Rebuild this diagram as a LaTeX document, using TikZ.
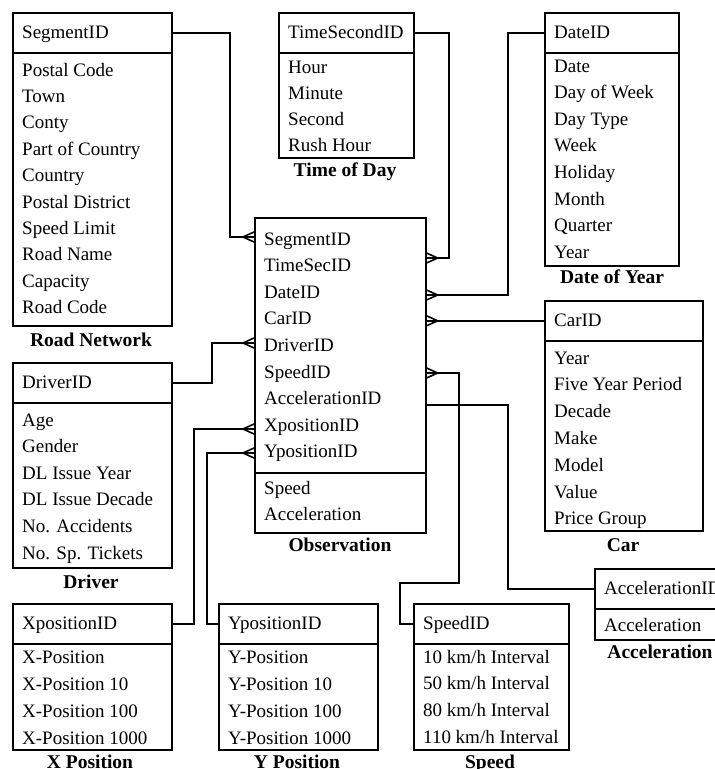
\documentclass[tikz,border=0pt]{standalone}
\usepackage{fontspec}
\setmainfont{Liberation Serif}
\usetikzlibrary{calc}
\newcommand\rowfont{\fontsize{19}{22}\selectfont}
\newcommand\ttlfont{\fontsize{19.5}{22}\selectfont\bfseries}
\tikzset{
  box/.style={draw, line width=1.6pt, inner sep=0pt, anchor=north west},
  txt/.style={anchor=base west, inner sep=0pt, font=\rowfont},
  ttl/.style={anchor=base, inner sep=0pt, font=\ttlfont},
  conn/.style={line width=1.6pt},
}
% id, L, T, R, D, B, header
\newcommand\ertbl[7]{%
  \node[box, minimum width={(#4-#2)*1pt}, minimum height={(#5-#3)*1pt}] (#1H) at (#2,#3) {};
  \node[box, minimum width={(#4-#2)*1pt}, minimum height={(#6-#5)*1pt}] (#1B) at (#2,#5) {};
  \node[txt] (#1-h) at ({#2+10},{(#3+#5)/2+6}) {#7};}
% id, L, first centre, step, list
\newcommand\errows[5]{%
  \foreach \t [count=\i] in {#5} \node[txt] (#1-\i) at ({#2+10},{#3+(\i-1)*#4+6}) {\t};}
% id, x, y, text
\newcommand\ertitle[4]{\node[ttl] (#1-t) at (#2,{#3+6.5}) {#4};}
% coordinate, dx
\newcommand\crow[2]{\draw[conn] ($(#1)+(#2,0)$) -- ($(#1)+(0,5)$) ($(#1)+(#2,0)$) -- ($(#1)+(0,-5)$);}
\begin{document}
\begin{tikzpicture}[x=1pt,y=-1pt]
\useasboundingbox (0,0) rectangle (715,769);
\fill[white] (0,0) rectangle (715,769);
% Road Network
\ertbl{road}{12}{12}{171}{52}{325}{SegmentID}
\errows{road}{12}{70}{26.4}{Postal Code,Town,Conty,Part of Country,Country,Postal District,Speed Limit,Road Name,Capacity,Road Code}
\ertitle{road}{91}{340}{Road Network}
% Time of Day
\ertbl{tod}{278}{12}{413}{52}{157}{TimeSecondID}
\errows{tod}{278}{67}{26}{Hour,Minute,Second,Rush Hour}
\ertitle{tod}{345}{170}{Time of Day}
% Date of Year
\ertbl{doy}{544}{12}{678}{52}{265}{DateID}
\errows{doy}{544}{66}{26.6}{Date,Day of Week,Day Type,Week,Holiday,Month,Quarter,Year}
\ertitle{doy}{612}{277}{Date of Year}
% Observation
\node[box, minimum width=171pt, minimum height=255pt] (obsH) at (254,217) {};
\node[box, minimum width=171pt, minimum height=60pt] (obsB) at (254,472) {};
\errows{obsk}{254}{239}{26.6}{SegmentID,TimeSecID,DateID,CarID,DriverID,SpeedID,AccelerationID,XpositionID,YpositionID}
\errows{obsm}{254}{488}{26.5}{Speed,Acceleration}
\ertitle{obs}{340}{545}{Observation}
% Car
\ertbl{car}{544}{300}{702}{340}{530}{CarID}
\errows{car}{544}{358}{26.8}{Year,Five Year Period,Decade,Make,Model,Value,Price Group}
\ertitle{car}{623}{545}{Car}
% Driver
\ertbl{drv}{12}{362}{171}{402}{567}{DriverID}
\errows{drv}{12}{420}{26.6}{Age,Gender,DL Issue Year,DL Issue Decade,No. Accidents,No. Sp. Tickets}
\ertitle{drv}{91}{582}{Driver}
% X Position
\ertbl{xp}{12}{603}{171}{643}{749}{XpositionID}
\errows{xp}{12}{657}{27}{X-Position,X-Position 10,X-Position 100,X-Position 1000}
\ertitle{xp}{90}{761.5}{X Position}
% Y Position
\ertbl{yp}{218}{603}{377}{643}{749}{YpositionID}
\errows{yp}{218}{657}{27}{Y-Position,Y-Position 10,Y-Position 100,Y-Position 1000}
\ertitle{yp}{297}{761.5}{Y Position}
% Speed
\ertbl{spd}{413}{603}{568}{643}{749}{SpeedID}
\errows{spd}{413}{657}{26.8}{10 km/h Interval,50 km/h Interval,80 km/h Interval,110 km/h Interval}
\ertitle{spd}{490}{761.5}{Speed}
% Acceleration
\ertbl{acc}{594}{568}{730}{608}{639}{AccelerationID}
\errows{acc}{594}{625}{26}{Acceleration}
\ertitle{acc}{660}{652}{Acceleration}
% connection points on Observation
\coordinate (oSeg) at (obsH.west |- 0,237);
\coordinate (oTime) at (obsH.east |- 0,258);
\coordinate (oDate) at (obsH.east |- 0,295);
\coordinate (oCar) at (obsH.east |- carH.west);
\coordinate (oDrv) at (obsH.west |- 0,343);
\coordinate (oSpd) at (obsH.east |- 0,373);
\coordinate (oAcc) at (obsH.east |- 0,405);
\coordinate (oX) at (obsH.west |- 0,429);
\coordinate (oY) at (obsH.west |- 0,453);
% connectors
\draw[conn] (roadH.east) -- (roadH.east -| 230,0) |- (oSeg);
\draw[conn] (todH.east) -- (todH.east -| 449,0) |- (oTime);
\draw[conn] (doyH.west) -- (doyH.west -| 508,0) |- (oDate);
\draw[conn] (carH.west) -- (oCar);
\draw[conn] (drvH.east) -- (drvH.east -| 212,0) |- (oDrv);
\draw[conn] (oSpd) -- (oSpd -| 459,0) |- (400,583) |- (spdH.west);
\draw[conn] (oAcc) -- (oAcc -| 508,0) |- (accH.west);
\draw[conn] (oX) -- (oX -| 194,0) |- (xpH.east);
\draw[conn] (oY) -- (oY -| 207,0) |- (ypH.west);
% crow's feet
\crow{oSeg}{-11}
\crow{oTime}{11}
\crow{oDate}{11}
\crow{oCar}{11}
\crow{oDrv}{-11}
\crow{oSpd}{11}
\crow{oX}{-11}
\crow{oY}{-11}
\end{tikzpicture}
\end{document}
